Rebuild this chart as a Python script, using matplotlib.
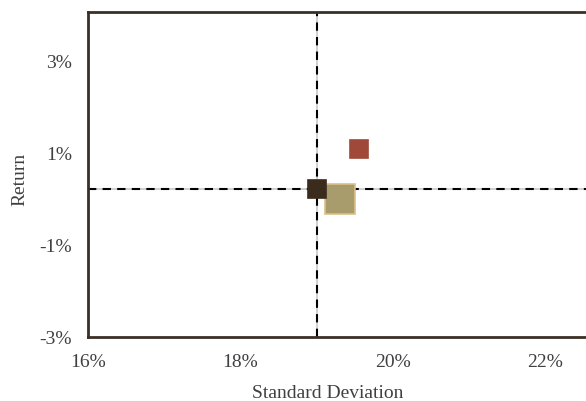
import matplotlib.pyplot as plt

# risk / return points (percent)
names = ["Portfolio", "Fund A", "Fund B"]
std_dev = [19.0, 19.55, 19.3]
returns = [0.22, 1.11, 0.0]
colors = ["#3a2b1d", "#a0493a", "#a89c6c"]
edge_colors = ["#3a2b1d", "#a0493a", "#dcc089"]
sizes = [13.5, 13.5, 21]

# reference lines
ref_x = 19.0
ref_y = 0.22

xticks = [16, 18, 20, 22]
yticks = [-3, -1, 1, 3]

text_col = "#404040"
spine_col = "#3b3026"

plt.rcParams["font.family"] = ["Liberation Serif", "DejaVu Serif"]

fig = plt.figure(figsize=(5.86, 4.01), dpi=100)
ax = fig.add_axes([88 / 586, 64 / 401, 533.75 / 586, 325.5 / 401])

ax.set_xlim(16, 23)
ax.set_ylim(-3, 4.1)

# light grey base line with black dashes on top
ax.axvline(ref_x, color="#c8c8c8", lw=1.2, zorder=1)
ax.axhline(ref_y, color="#c8c8c8", lw=1.2, zorder=1)
ax.axvline(ref_x, color="black", lw=1.5, ls=(0, (4, 3)), zorder=2)
ax.axhline(ref_y, color="black", lw=1.5, ls=(0, (4, 3)), zorder=2)

# draw big square first so the dark one sits on top
for i in [2, 1, 0]:
    ax.plot(std_dev[i], returns[i], marker="s", ms=sizes[i],
            mfc=colors[i], mec=edge_colors[i], mew=1.2, ls="none",
            zorder=3 + (2 - i), clip_on=False)

ax.set_xticks(xticks)
ax.set_xticklabels([f"{t}%" for t in xticks])
ax.set_yticks(yticks)
ax.set_yticklabels([f"{t}%" for t in yticks])
ax.tick_params(length=0, labelsize=14, labelcolor=text_col)
ax.tick_params(axis="x", pad=12)
ax.tick_params(axis="y", pad=11.5)

for s in ["left", "bottom", "top"]:
    ax.spines[s].set_color(spine_col)
    ax.spines[s].set_linewidth(2)
ax.spines["right"].set_visible(False)

ax.set_xlabel("Standard Deviation", fontsize=14, color=text_col)
ax.set_ylabel("Return", fontsize=14, color=text_col)
ax.xaxis.set_label_coords(0.45, -0.146)
ax.yaxis.set_label_coords(-0.112, 0.485)

fig.savefig("out.png", dpi=100)
